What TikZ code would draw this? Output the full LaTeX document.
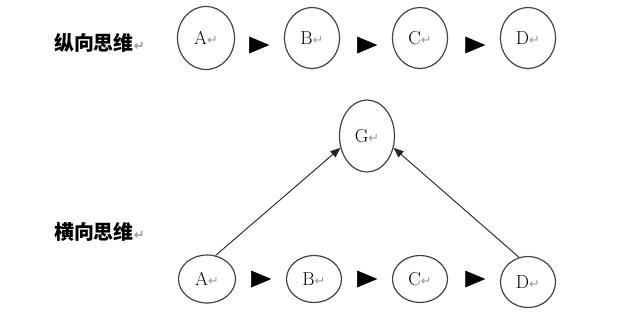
\documentclass[tikz,border=0pt]{standalone}
\usepackage{fontspec}
\usepackage{tikz}
\usetikzlibrary{arrows.meta,shapes.geometric}
\newfontfamily\cjk{Noto Sans CJK SC}
\newfontfamily\dejavu{DejaVu Sans}
\newcommand{\retmark}{{\color{gray!80}\dejavu\fontsize{11}{11}\selectfont ↵}}
\tikzset{
  bub/.style={ellipse, draw=black!75, line width=1pt, inner sep=0pt, font=\fontsize{16}{16}\selectfont},
  tri/.style={draw=white, -{Triangle[length=6mm,width=5mm,color=black]}, shorten <=4.5mm, shorten >=4.4mm},
  lnk/.style={-{Triangle[length=3mm,width=2.4mm]}, line width=0.8pt, black!85},
  ttl/.style={anchor=west, font=\cjk\bfseries\fontsize{17}{17}\selectfont},
}
\begin{document}
\begin{tikzpicture}[x=0.03cm,y=-0.03cm]
  \useasboundingbox (0,0) rectangle (617,328);
  % vertical thinking
  \node[ttl] (vlbl) at (50,43) {纵向思维\retmark};
  \node[bub, minimum width=1.71cm, minimum height=1.89cm] (vA) at (206,38) {A\retmark};
  \node[bub, minimum width=1.65cm, minimum height=1.83cm] (vB) at (312,38) {B\retmark};
  \node[bub, minimum width=1.65cm, minimum height=1.83cm] (vC) at (420,38) {C\retmark};
  \node[bub, minimum width=1.65cm, minimum height=1.83cm] (vD) at (528,38) {D\retmark};
  \draw[tri] ([yshift=-2.1mm]vA.east) -- ([yshift=-2.1mm]vB.west);
  \draw[tri] ([yshift=-2.1mm]vB.east) -- ([yshift=-2.1mm]vC.west);
  \draw[tri] ([yshift=-2.1mm]vC.east) -- ([yshift=-2.1mm]vD.west);
  % lateral thinking
  \node[ttl] (hlbl) at (50,232) {横向思维\retmark};
  \node[bub, minimum width=1.65cm, minimum height=2.16cm] (g) at (367,136) {G\retmark};
  \node[bub, minimum width=1.71cm, minimum height=1.44cm] (hA) at (207,279) {A\retmark};
  \node[bub, minimum width=1.65cm, minimum height=1.41cm] (hB) at (314,279) {B\retmark};
  \node[bub, minimum width=1.65cm, minimum height=1.41cm] (hC) at (420,279) {C\retmark};
  \node[bub, minimum width=1.65cm, minimum height=1.53cm] (hD) at (528,282) {D\retmark};
  \draw[tri] (hA) -- (hB);
  \draw[tri] (hB) -- (hC);
  \draw[tri] (hC) -- (hC -| hD.west);
  \draw[lnk] (hA.70) -- (g.204);
  \draw[lnk] (hD.110) -- (g.336);
\end{tikzpicture}
\end{document}
